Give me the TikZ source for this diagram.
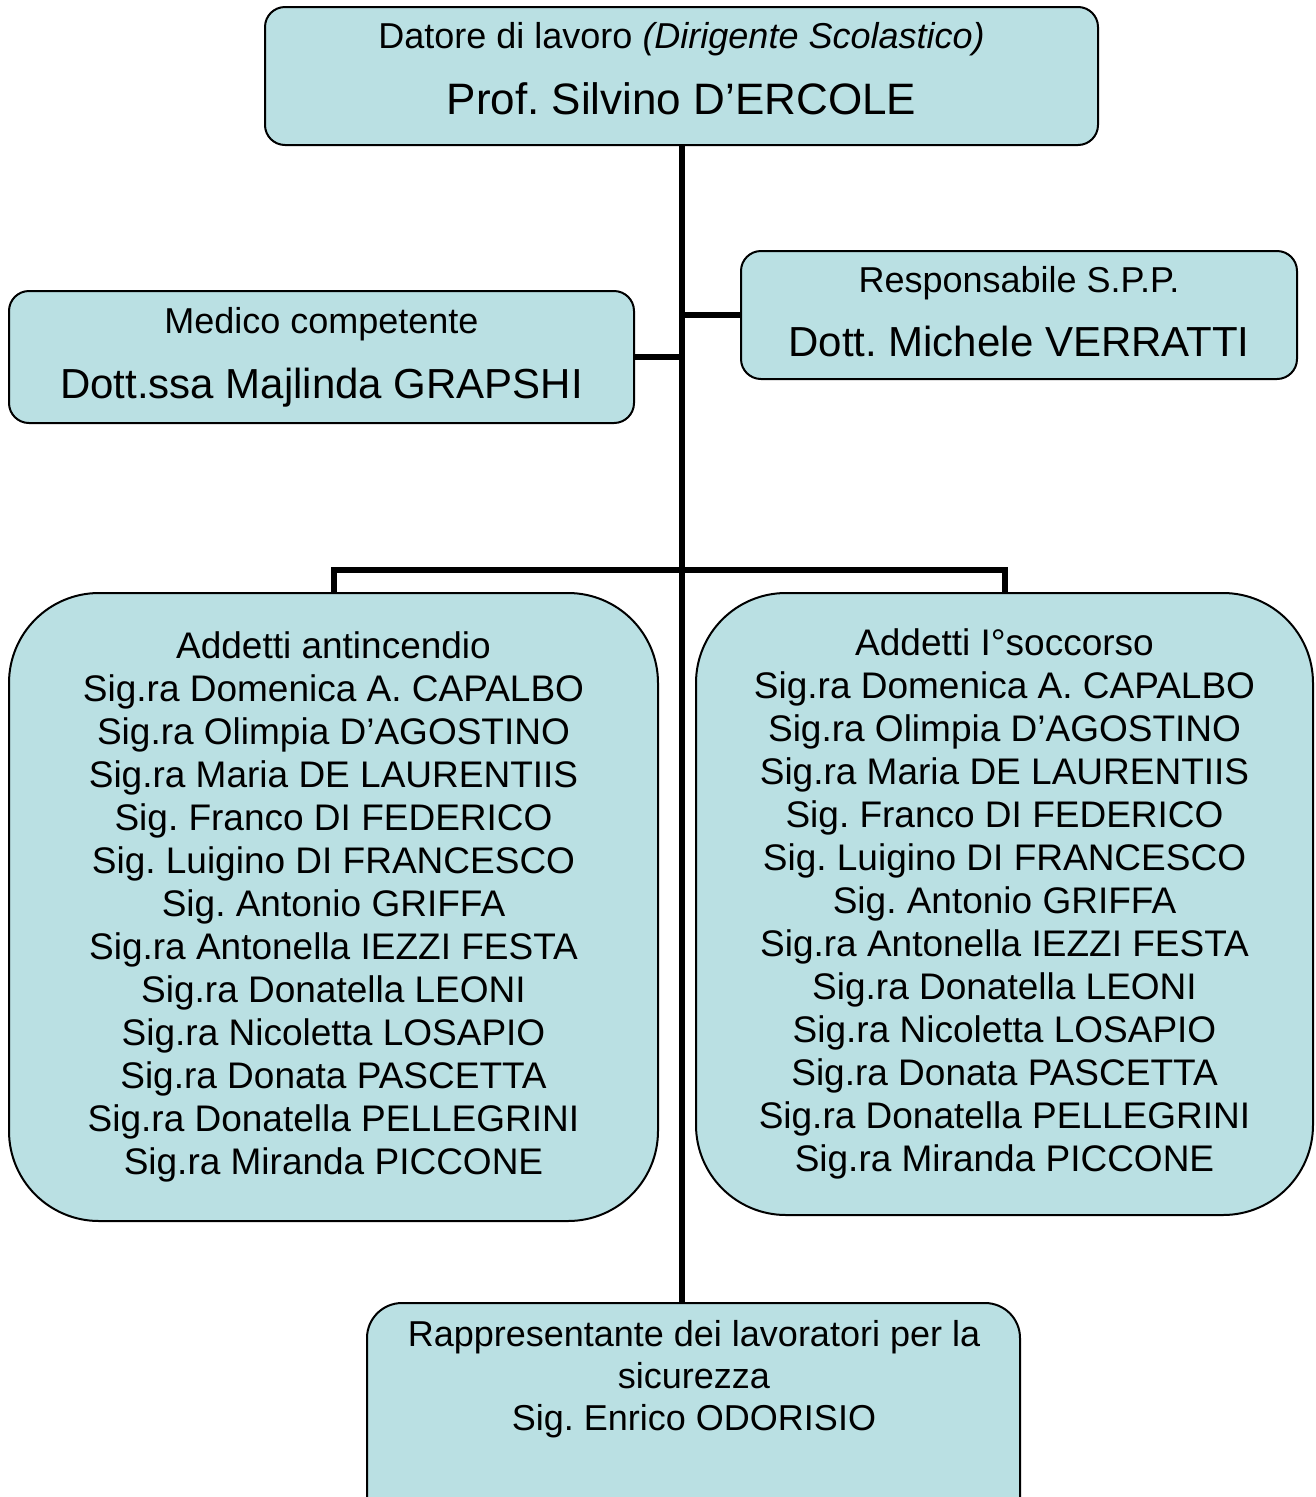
\documentclass[tikz,border=0pt]{standalone}
\usepackage{fontspec}
\setmainfont{Liberation Sans}
\usepackage{tikz}
\frenchspacing

\definecolor{boxblue}{RGB}{186,224,227}

\tikzset{
    box/.style={draw, fill=boxblue, line width=2pt, rounded corners=20pt, align=center, inner sep=0pt},
    link/.style={line width=6pt},
}

\begin{document}
\begin{tikzpicture}[x=1pt, y=-1pt, every node/.style={font=\fontsize{37}{43}\selectfont}]
    % page frame as in the reference
    \useasboundingbox (0,0) rectangle (1316,1497);
    \clip (0,0) rectangle (1316,1497);

    % Datore di lavoro at the top
    \node[box, minimum width=833pt, minimum height=138pt] (datore) at (681.5,76)
        {\fontsize{36}{43}\selectfont Datore di lavoro \textit{(Dirigente Scolastico)}\\[23pt]
         \fontsize{44}{66}\selectfont Prof. Silvino D’ERCOLE\rule[-16pt]{0pt}{0pt}};

    % Medico and Responsabile S.P.P.
    \node[box, minimum width=625pt, minimum height=132pt] (medico) at (321.5,357)
        {\fontsize{36}{43}\selectfont Medico competente\\[22pt]
         \fontsize{42}{65}\selectfont Dott.ssa Majlinda GRAPSHI};
    \node[box, minimum width=556pt, minimum height=128pt] (rspp) at (1019,315)
        {\fontsize{36}{43}\selectfont Responsabile S.P.P.\\[21pt]
         \fontsize{42}{64}\selectfont Dott. Michele VERRATTI\rule[-8pt]{0pt}{0pt}};

    % the two teams
    \node[box, rounded corners=90pt, minimum width=649pt, minimum height=628pt] (antincendio) at (333.5,907)
        {Addetti antincendio\\
         Sig.ra Domenica A. CAPALBO\\
         Sig.ra Olimpia D’AGOSTINO\\
         Sig.ra Maria DE LAURENTIIS\\
         Sig. Franco DI FEDERICO\\
         Sig. Luigino DI FRANCESCO\\
         Sig. Antonio GRIFFA\\
         Sig.ra Antonella IEZZI FESTA\\
         Sig.ra Donatella LEONI\\
         Sig.ra Nicoletta LOSAPIO\\
         Sig.ra Donata PASCETTA\\
         Sig.ra Donatella PELLEGRINI\\
         Sig.ra Miranda PICCONE};
    \node[box, rounded corners=90pt, minimum width=617pt, minimum height=622pt] (soccorso) at (1004.5,904)
        {Addetti I°soccorso\\
         Sig.ra Domenica A. CAPALBO\\
         Sig.ra Olimpia D’AGOSTINO\\
         Sig.ra Maria DE LAURENTIIS\\
         Sig. Franco DI FEDERICO\\
         Sig. Luigino DI FRANCESCO\\
         Sig. Antonio GRIFFA\\
         Sig.ra Antonella IEZZI FESTA\\
         Sig.ra Donatella LEONI\\
         Sig.ra Nicoletta LOSAPIO\\
         Sig.ra Donata PASCETTA\\
         Sig.ra Donatella PELLEGRINI\\
         Sig.ra Miranda PICCONE};

    % RLS, cut by the lower edge
    \node[box, rounded corners=35pt, minimum width=653pt, minimum height=260pt, anchor=north] (rls) at (693.5,1302) {};
    \node[align=center, anchor=north, inner sep=0pt, font=\fontsize{36}{42}\selectfont] (rlstext) at (694,1320)
        {Rappresentante dei lavoratori per la\\
         sicurezza\\
         Sig. Enrico ODORISIO};

    % connectors
    \coordinate (bus) at (datore.south |- 0,570);
    \draw[link] (datore.south) -- (datore.south |- rls.north);
    \draw[link] (medico.east) -- (datore.south |- medico.east);
    \draw[link] (rspp.west) -- (datore.south |- rspp.west);
    \draw[link] (antincendio.north) |- (bus) -| (soccorso.north);
\end{tikzpicture}
\end{document}
